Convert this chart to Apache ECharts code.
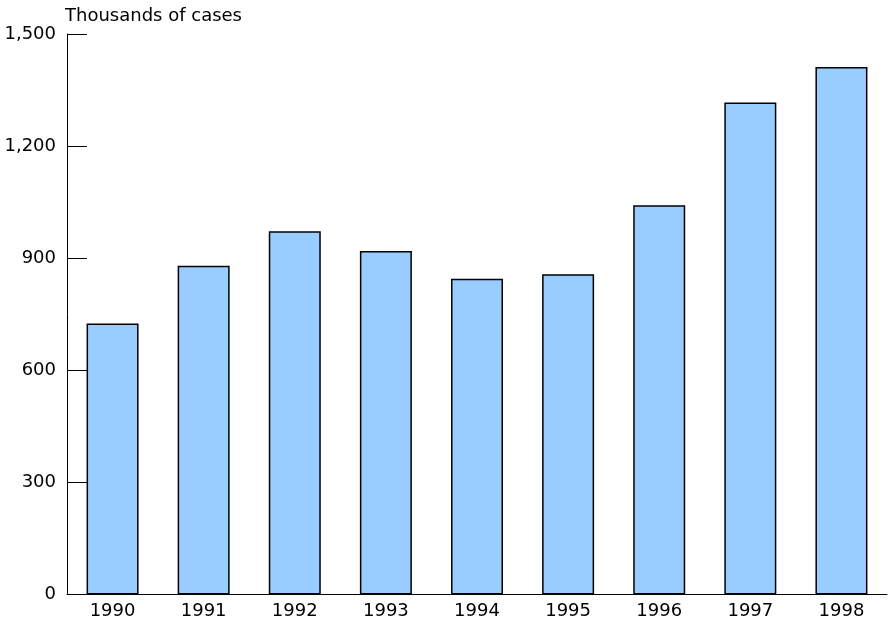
<!DOCTYPE html>
<html>
<head>
<meta charset="utf-8">
<style>html,body{margin:0;padding:0;background:#fff}#c{width:889px;height:623px}</style>
<script src="https://cdn.jsdelivr.net/npm/echarts@6/dist/echarts.min.js"></script>
</head>
<body>
<div id="c"></div>
<script>
const categories = ['1990','1991','1992','1993','1994','1995','1996','1997','1998'];
const cases = [725, 880, 972, 919, 845, 857, 1042, 1317, 1412];
const yTicks = [0, 300, 600, 900, 1200, 1500];

const chart = echarts.init(document.getElementById('c'), null, {renderer: 'canvas'});
const font = 'DejaVu Sans';
chart.setOption({
  animation: false,
  grid: {left: 67, right: 2, top: 34, bottom: 28.5, containLabel: false},
  xAxis: {
    type: 'category',
    data: categories,
    axisLine: {lineStyle: {color: '#000', width: 1}},
    axisTick: {show: false},
    axisLabel: {color: '#000', fontFamily: font, fontSize: 18, margin: 8}
  },
  yAxis: {
    type: 'value',
    min: yTicks[0],
    max: yTicks[yTicks.length - 1],
    interval: 300,
    name: 'Thousands of cases',
    nameLocation: 'end',
    nameGap: 18,
    nameTextStyle: {color: '#000', fontFamily: font, fontSize: 18, align: 'left', verticalAlign: 'middle', padding: [0, 0, 0, -2]},
    axisLine: {show: true, lineStyle: {color: '#000', width: 1}},
    axisTick: {show: true, inside: true, length: 20, lineStyle: {color: '#000', width: 1}},
    splitLine: {show: false},
    axisLabel: {
      color: '#000', fontFamily: font, fontSize: 18, margin: 11, padding: [4, 0, 0, 0],
      formatter: v => v.toLocaleString('en-US')
    }
  },
  series: [{
    type: 'bar',
    data: cases,
    barWidth: 52,
    itemStyle: {color: '#99CCFF', borderColor: '#000', borderWidth: 1.5}
  }]
});
</script>
</body>
</html>
